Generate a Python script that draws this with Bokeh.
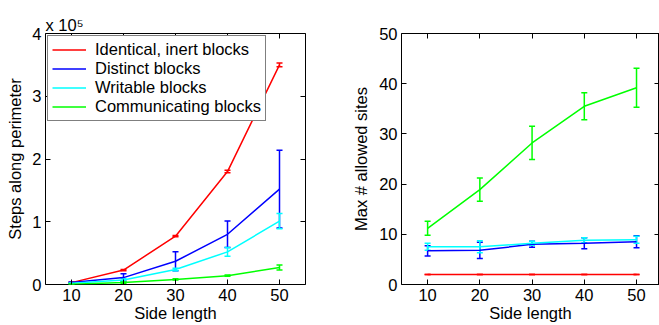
from bokeh.plotting import figure
from bokeh.layouts import row
from bokeh.models import (ColumnDataSource, Whisker, TeeHead, Legend, LegendItem,
                          LinearAxis, FixedTicker, Range1d)
from bokeh.embed import file_html
from bokeh.resources import INLINE

side = [10, 20, 30, 40, 50]
series_names = ["Identical, inert blocks", "Distinct blocks", "Writable blocks", "Communicating blocks"]
colors = ["#ff0000", "#0000ff", "#00ffff", "#00ff00"]

# Left: steps along perimeter (units of 1e5)
steps_mean = [
    [0.03, 0.23, 0.77, 1.80, 3.50],
    [0.03, 0.11, 0.37, 0.80, 1.52],
    [0.02, 0.07, 0.24, 0.52, 1.01],
    [0.005, 0.03, 0.08, 0.14, 0.27],
]
steps_err = [
    [0.005, 0.01, 0.01, 0.02, 0.03],
    [0.01, 0.06, 0.15, 0.21, 0.62],
    [0.005, 0.02, 0.02, 0.07, 0.12],
    [0.002, 0.01, 0.01, 0.01, 0.04],
]
left_yticks = [0, 1, 2, 3, 4]

# Right: max # allowed sites
sites_mean = [
    [2, 2, 2, 2, 2],
    [6.7, 6.8, 8.0, 8.2, 8.5],
    [7.5, 7.5, 8.2, 8.8, 8.9],
    [11.2, 18.9, 28.2, 35.5, 39.2],
]
sites_err = [
    [0.0, 0.0, 0.0, 0.0, 0.0],
    [1.0, 1.6, 0.6, 1.1, 1.2],
    [0.7, 1.2, 0.4, 0.5, 0.7],
    [1.4, 2.3, 3.3, 2.7, 3.9],
]
right_yticks = [0, 10, 20, 30, 40, 50]

FONT = "Liberation Sans"
FS = "16.5px"


def blank_axis(ticks):
    return LinearAxis(ticker=FixedTicker(ticks=ticks), major_tick_in=5, major_tick_out=0,
                      minor_tick_line_color=None, axis_line_color=None,
                      major_label_overrides={t: "" for t in ticks},
                      major_label_text_font_size="0px", major_label_standoff=0)


def style(p, yticks):
    p.xgrid.visible = False
    p.ygrid.visible = False
    p.outline_line_color = "black"
    p.outline_line_width = 1
    p.background_fill_color = "white"
    p.border_fill_color = "white"
    for ax in p.xaxis + p.yaxis:
        ax.major_tick_in = 5
        ax.major_tick_out = 0
        ax.minor_tick_line_color = None
        ax.axis_line_color = None
        ax.major_label_text_font = FONT
        ax.major_label_text_font_size = FS
        ax.major_label_text_color = "black"
        ax.axis_label_text_font = FONT
        ax.axis_label_text_font_size = FS
        ax.axis_label_text_font_style = "normal"
        ax.axis_label_text_color = "black"
    p.xaxis.ticker = FixedTicker(ticks=side)
    p.yaxis.ticker = FixedTicker(ticks=yticks)
    p.xaxis.major_label_standoff = 4
    p.xaxis.axis_label_standoff = 0
    p.yaxis.major_label_standoff = 4
    p.add_layout(blank_axis(side), "above")
    p.add_layout(blank_axis(yticks), "right")


def draw(p, means, errs):
    renderers = []
    for m, e, c in zip(means, errs, colors):
        src = ColumnDataSource(dict(x=side, y=m,
                                    lo=[a - b for a, b in zip(m, e)],
                                    hi=[a + b for a, b in zip(m, e)]))
        r = p.line("x", "y", source=src, line_color=c, line_width=1.5)
        w = Whisker(source=src, base="x", upper="hi", lower="lo",
                    line_color=c, line_width=1.5,
                    upper_head=TeeHead(size=6, line_color=c, line_width=1.5),
                    lower_head=TeeHead(size=6, line_color=c, line_width=1.5))
        p.add_layout(w)
        renderers.append(r)
    return renderers


p1 = figure(width=330, height=325, x_range=Range1d(5, 55), y_range=Range1d(0, 4),
            output_backend="svg", toolbar_location=None,
            min_border_left=45, min_border_right=25, min_border_top=33, min_border_bottom=41)
p1.xaxis.axis_label = "Side length"
p1.yaxis.axis_label = "Steps along perimeter"
p1.title.text = "x 10\u2075"
p1.title.align = "left"
p1.title.standoff = 0
p1.title.text_font = FONT
p1.title.text_font_size = FS
p1.title.text_font_style = "normal"
p1.title.text_color = "black"
style(p1, left_yticks)
p1.yaxis.axis_label_standoff = 5
rs = draw(p1, steps_mean, steps_err)

legend = Legend(items=[LegendItem(label=n, renderers=[r]) for n, r in zip(series_names, rs)],
                location="top_left", margin=2, padding=4, spacing=0,
                label_height=19, glyph_height=19, glyph_width=34, label_standoff=9,
                label_text_font=FONT, label_text_font_size=FS, label_text_color="black",
                border_line_color="black", border_line_width=1,
                background_fill_color="white", background_fill_alpha=1.0)
p1.add_layout(legend, "center")

p2 = figure(width=329, height=325, x_range=Range1d(5, 54.4), y_range=Range1d(0, 50),
            output_backend="svg", toolbar_location=None,
            min_border_left=71, min_border_right=0, min_border_top=33, min_border_bottom=41)
p2.xaxis.axis_label = "Side length"
p2.yaxis.axis_label = "Max # allowed sites"
style(p2, right_yticks)
p2.yaxis.axis_label_standoff = 6
draw(p2, sites_mean, sites_err)

layout = row(p1, p2)
open("out.html", "w").write(file_html(layout, INLINE))
